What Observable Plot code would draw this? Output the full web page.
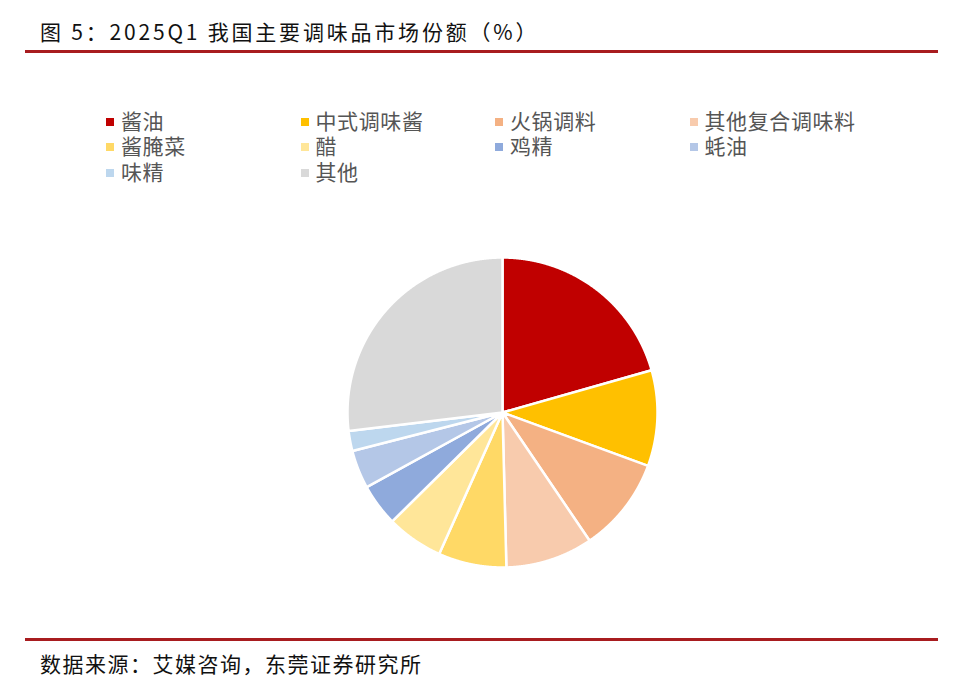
<!DOCTYPE html>
<html lang="zh-CN">
<head>
<meta charset="utf-8">
<script src="https://cdn.jsdelivr.net/npm/d3@7"></script>
<script src="https://cdn.jsdelivr.net/npm/@observablehq/plot@0.6"></script>
<style>
  html, body { margin: 0; padding: 0; background: #fff; }
  body { width: 980px; height: 680px; position: relative; overflow: hidden;
         font-family: "Noto Sans CJK SC", "Noto Sans", sans-serif; }
  #title { position: absolute; left: 40px; top: 16px; font-size: 21px; line-height: 30px;
           color: #111; letter-spacing: 2.8px; white-space: nowrap; }
  .rule { position: absolute; left: 25px; width: 913px; height: 3px; background: #a81c1f; }
  #footer { position: absolute; left: 40px; top: 648px; font-size: 21px; line-height: 30px;
            color: #111; letter-spacing: 1.5px; white-space: nowrap; }
  #legend { position: absolute; left: 0; top: 0; }
  .item { position: absolute; display: flex; align-items: center; height: 24px;
          font-family: "Liberation Sans", "Noto Sans CJK SC", sans-serif;
          font-size: 21px; line-height: 24px; color: #555; white-space: nowrap; letter-spacing: 0.6px; }
  .item .lab { display: inline-block; height: 24px; line-height: 24px; }
  .sw { width: 8px; height: 8px; margin-right: 7px; flex: none; }
  #chart { position: absolute; left: 342px; top: 252px; }
</style>
</head>
<body>
<div id="title">图 5：2025Q1 我国主要调味品市场份额（%）</div>
<div class="rule" style="top:50px"></div>
<div id="legend"></div>
<div id="chart"></div>
<div class="rule" style="top:638px"></div>
<div id="footer">数据来源：艾媒咨询，东莞证券研究所</div>
<script>
// Data (% share, clockwise from 12 o'clock)
const categories = ["酱油", "中式调味酱", "火锅调料", "其他复合调味料", "酱腌菜", "醋", "鸡精", "蚝油", "味精", "其他"];
const shares = [20.6, 10.0, 9.9, 9.1, 7.1, 5.9, 4.4, 4.0, 2.1, 26.9];
const colors = ["#C00000", "#FFC000", "#F4B183", "#F8CBAD", "#FFD966", "#FFE699", "#8FAADC", "#B4C7E7", "#BDD7EE", "#D9D9D9"];

// Build slice outlines from the shares
const total = d3.sum(shares);
const points = [];
let cum = 0;
categories.forEach((name, i) => {
  const v = shares[i];
  const a0 = cum / total * 2 * Math.PI;
  const a1 = (cum + v) / total * 2 * Math.PI;
  cum += v;
  const n = Math.max(4, Math.ceil(v * 20));
  points.push({name, x: 0, y: 0});
  for (let k = 0; k <= n; k++) {
    const a = a0 + (a1 - a0) * k / n;
    points.push({name, x: Math.sin(a), y: Math.cos(a)});
  }
  points.push({name, x: 0, y: 0});
});

const chart = Plot.plot({
  width: 320,
  height: 320,
  marginTop: 5, marginRight: 5, marginBottom: 5, marginLeft: 5,
  x: {domain: [-1, 1], axis: null},
  y: {domain: [-1, 1], axis: null},
  color: {domain: categories, range: colors},
  marks: [
    Plot.line(points, {x: "x", y: "y", z: "name", fill: "name",
      stroke: "white", strokeWidth: 2.5, strokeLinejoin: "round"})
  ]
});
document.getElementById("chart").appendChild(chart);

// Legend (row-major, 4 columns)
const legend = document.getElementById("legend");
categories.forEach((name, i) => {
  const col = i % 4, row = Math.floor(i / 4);
  const el = document.createElement("div");
  el.className = "item";
  el.style.left = (106 + col * 194.5) + "px";
  el.style.top = (109.5 + row * 25.6) + "px";
  const sw = document.createElement("span");
  sw.className = "sw";
  sw.style.background = colors[i];
  const t = document.createElement("span");
  t.className = "lab";
  t.textContent = name;
  el.appendChild(sw); el.appendChild(t);
  legend.appendChild(el);
});
</script>
</body>
</html>
